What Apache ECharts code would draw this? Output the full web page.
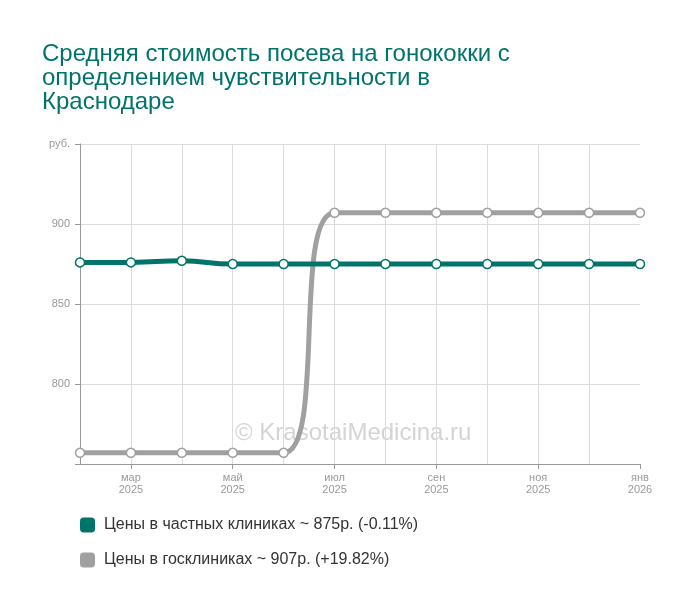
<!DOCTYPE html>
<html>
<head>
<meta charset="utf-8">
<style>
  html, body { margin: 0; padding: 0; background: #fff; }
  #chart { width: 700px; height: 607px; }
</style>
<script src="https://cdn.jsdelivr.net/npm/echarts@6/dist/echarts.min.js"></script>
</head>
<body>
<div id="chart"></div>
<script>
// месяцы (фев 2025 - янв 2026)
var months = ['фев\n2025', 'мар\n2025', 'апр\n2025', 'май\n2025', 'июн\n2025', 'июл\n2025',
              'авг\n2025', 'сен\n2025', 'окт\n2025', 'ноя\n2025', 'дек\n2025', 'янв\n2026'];
// цены в частных клиниках
var privatePrices = [876, 876, 877, 875, 875, 875, 875, 875, 875, 875, 875, 875];
// цены в госклиниках
var publicPrices = [757, 757, 757, 757, 757, 907, 907, 907, 907, 907, 907, 907];
var seriesNames = ['Цены в частных клиниках ~ 875р. (-0.11%)', 'Цены в госклиниках ~ 907р. (+19.82%)'];
var yMin = 750, yMax = 950, yStep = 50;

var green = '#00736a';
var gray = '#a0a0a0';

var myChart = echarts.init(document.getElementById('chart'));

function lineSeries(name, data, color) {
  return {
    name: name,
    type: 'line',
    data: data,
    smooth: 0.5,
    symbol: 'circle',
    symbolSize: 9,
    itemStyle: { color: '#fff', borderColor: color, borderWidth: 1.5 },
    lineStyle: { color: color, width: 5 },
    emphasis: { disabled: true }
  };
}

var option = {
  animation: false,
  title: {
    text: 'Средняя стоимость посева на гонококки с\nопределением чувствительности в\nКраснодаре',
    left: 37,
    top: 37,
    textStyle: {
      fontFamily: 'Liberation Sans, Arial, sans-serif',
      fontSize: 24,
      fontWeight: 'normal',
      color: green,
      lineHeight: 24
    }
  },
  legend: {
    orient: 'vertical',
    left: 75,
    top: 512,
    itemWidth: 15,
    itemHeight: 15,
    itemGap: 19,
    icon: 'roundRect',
    textStyle: { fontFamily: 'Liberation Sans, Arial, sans-serif', fontSize: 16, color: '#333', padding: [0, 0, 0, 4] },
    data: [
      { name: seriesNames[0], itemStyle: { color: green, borderWidth: 0 } },
      { name: seriesNames[1], itemStyle: { color: gray, borderWidth: 0 } }
    ]
  },
  grid: { left: 80, right: 60, top: 144, bottom: 143 },
  graphic: [{
    type: 'text',
    left: 235,
    top: 421,
    z: 0,
    silent: true,
    style: {
      text: '© KrasotaiMedicina.ru',
      fill: '#d4d4d4',
      font: '24px "Liberation Sans", Arial, sans-serif'
    }
  }],
  xAxis: {
    type: 'category',
    boundaryGap: false,
    data: months,
    axisLine: { lineStyle: { color: '#999', width: 1 } },
    axisTick: {
      length: 5,
      lineStyle: { color: '#999' },
      interval: function (i) { return i % 2 === 1; }
    },
    axisLabel: {
      interval: function (i) { return i % 2 === 1; },
      color: '#999',
      fontSize: 11,
      lineHeight: 12,
      margin: 8,
      fontFamily: 'Liberation Sans, Arial, sans-serif'
    },
    splitLine: {
      show: true,
      interval: function (i) { return i > 0 && i < months.length - 1; },
      lineStyle: { color: '#dcdcdc' }
    }
  },
  yAxis: {
    type: 'value',
    min: yMin,
    max: yMax,
    interval: yStep,
    axisLine: { show: true, lineStyle: { color: '#999', width: 1 } },
    axisTick: { show: true, length: 5, lineStyle: { color: '#999' } },
    axisLabel: {
      color: '#999',
      fontSize: 11,
      margin: 10,
      fontFamily: 'Liberation Sans, Arial, sans-serif',
      formatter: function (v) {
        if (v === yMax) return 'руб.';
        if (v === yMin) return '';
        return v;
      }
    },
    splitLine: {
      show: true,
      lineStyle: { color: '#dcdcdc' }
    }
  },
  series: [
    lineSeries(seriesNames[1], publicPrices, gray),
    lineSeries(seriesNames[0], privatePrices, green)
  ]
};

myChart.setOption(option);
</script>
</body>
</html>
